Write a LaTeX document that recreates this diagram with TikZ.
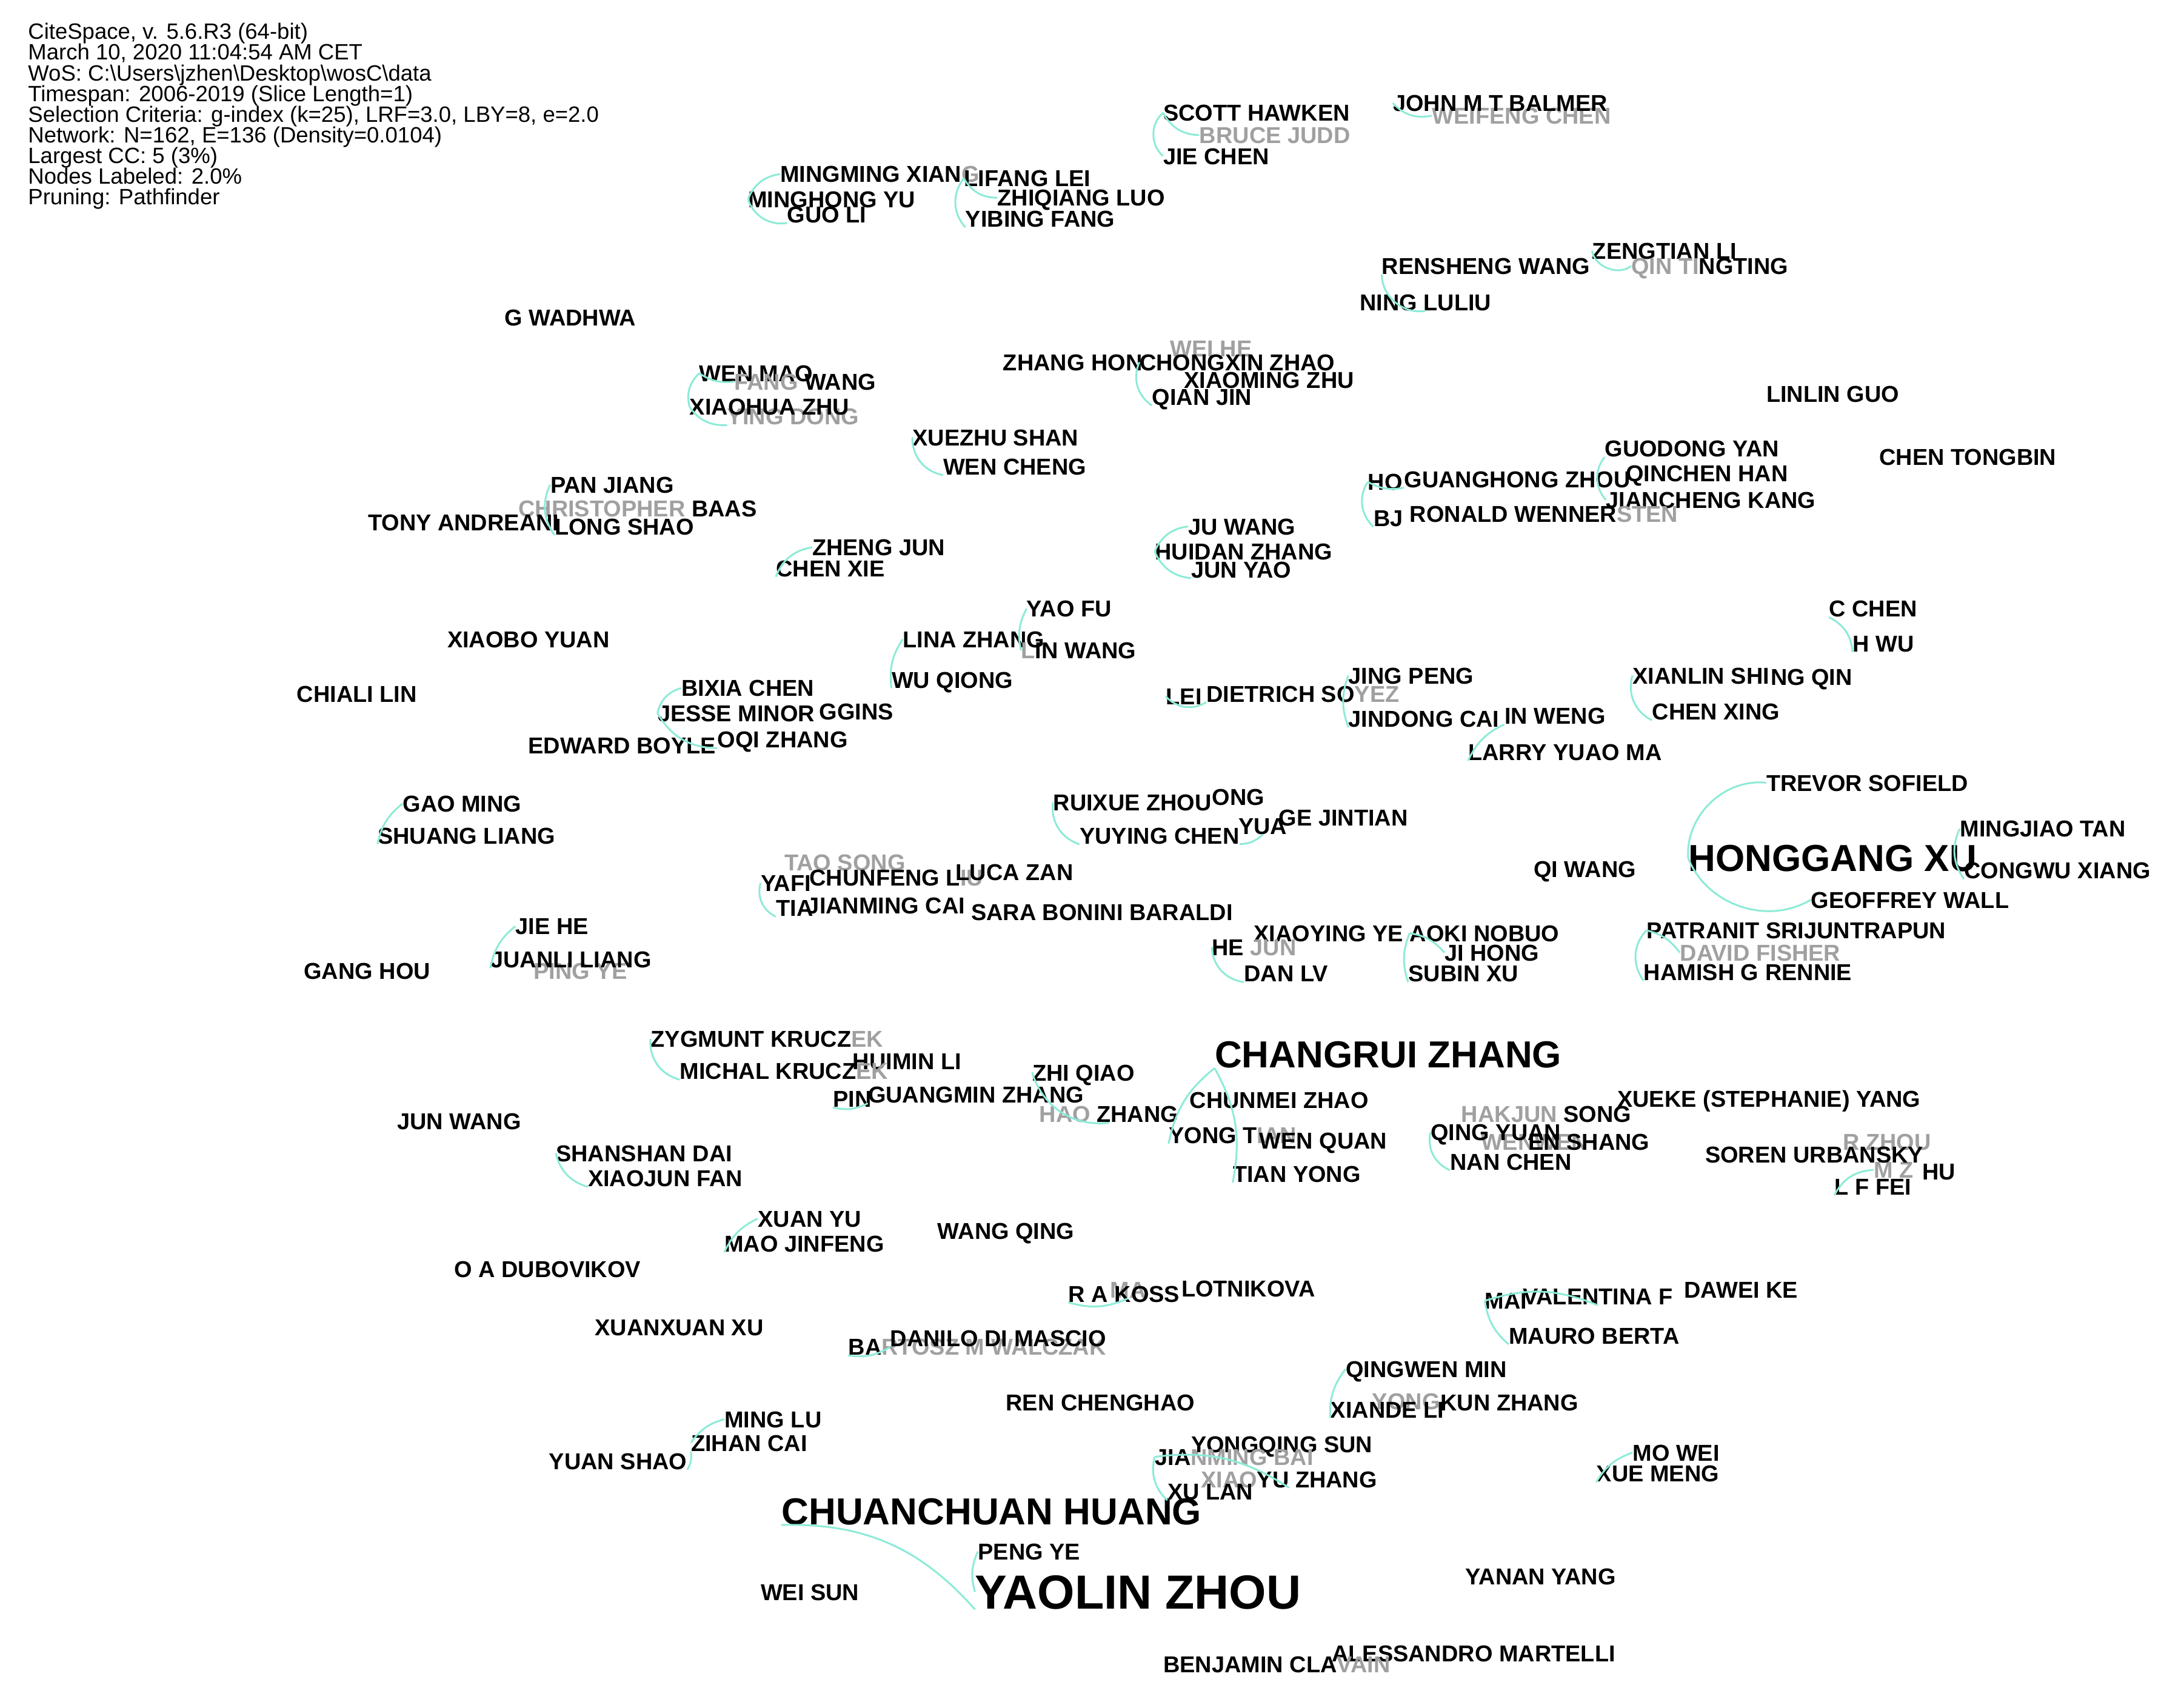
\documentclass[tikz,border=0pt]{standalone}
\usepackage{fontspec}
\setmainfont{Liberation Sans}
\definecolor{edgec}{RGB}{140,235,215}
\definecolor{gl}{RGB}{160,160,160}
\newcommand\LB[4]{\node[lab] (#1) at (#2,#3) {#4};}
\newcommand\GL[4]{\node[glab] (#1) at (#2,#3) {#4};}
\tikzset{
  lab/.style={anchor=west,inner sep=0pt,font=\bfseries\fontsize{16.5}{18}\selectfont,text height=11.9pt,text depth=0pt},
  glab/.style={lab,text=gl},
  bigl/.style={lab,font=\bfseries\fontsize{27}{30}\selectfont,text height=19.4pt},
  hugel/.style={lab,font=\bfseries\fontsize{34.4}{38}\selectfont,text height=24.8pt},
  edge/.style={draw=edgec,line width=1.3pt},
  hdr/.style={anchor=north west,inner sep=0pt,align=left,font=\fontsize{15.9}{14.85}\selectfont}
}
\begin{document}
\begin{tikzpicture}[x=1pt,y=-1pt]
\useasboundingbox[fill=white] (0,0) rectangle (1568,1224.1);
\node[hdr] (hdr) at (20,16.5) {CiteSpace, v. 5.6.R3 (64-bit)\\
March 10, 2020 11:04:54 AM CET\\
WoS: C:\textbackslash Users\textbackslash jzhen\textbackslash Desktop\textbackslash wosC\textbackslash data\\
Timespan: 2006-2019 (Slice Length=1)\\
Selection Criteria: g-index (k=25), LRF=3.0, LBY=8, e=2.0\\
Network: N=162, E=136 (Density=0.0104)\\
Largest CC: 5 (3\%)\\
Nodes Labeled: 2.0\%\\
Pruning: Pathfinder};
% gray (hidden) labels
\GL{bruce}{861}{97}{BRUCE JUDD}
\GL{weifeng}{1028}{83}{WEIFENG CHEN}
\GL{weihe}{840}{250}{WEI HE}
\GL{yingdong}{522}{299}{YING DONG}
\GL{taosong}{563}{619}{TAO SONG}
\GL{david}{1206}{684}{DAVID FISHER}
\GL{pingye}{383}{697}{PING YE}
\GL{rzhou}{1323}{820}{R ZHOU}
\GL{mz}{1345}{840}{M Z}
\GL{wenwen}{1063}{820}{WENWEN}
\GL{maria}{797}{926}{MA}
\GL{yongk}{985}{1006}{YONG}
% black labels
\LB{scott}{835}{81}{SCOTT HAWKEN}
\LB{jiechen}{835}{112}{JIE CHEN}
\LB{john}{1000}{74}{JOHN M T BALMER}
\LB{mingming}{560}{125}{MINGMING XIAN{\color{gl}G}}
\LB{lifang}{692}{128}{LIFANG LEI}
\LB{minghong}{537}{143}{MINGHONG YU}
\LB{guoli}{565}{154}{GUO LI}
\LB{zhiqiang}{716}{142}{ZHIQIANG LUO}
\LB{yibing}{693}{157}{YIBING FANG}
\LB{rensheng}{992}{191}{RENSHENG WANG}
\LB{zengtian}{1143}{180}{ZENGTIAN LI}
\LB{qinting}{1171}{191}{{\color{gl}QIN TI}NGTING}
\LB{ningluliu}{976}{217}{NING LULIU}
\LB{gwadhwa}{362}{228}{G WADHWA}
\LB{zhanghon}{720}{260}{ZHANG HON}
\LB{chongxin}{818}{260}{CHONGXIN ZHAO}
\LB{xiaoming}{850}{273}{XIAOMING ZHU}
\LB{qianjin}{827}{285}{QIAN JIN}
\LB{wenmao}{502}{268}{WEN MAO}
\LB{fangwang}{527}{274}{{\color{gl}FANG }WANG}
\LB{xiaohua}{495}{292}{XIAOHUA ZHU}
\LB{xuezhu}{655}{314}{XUEZHU SHAN}
\LB{wencheng}{677}{335}{WEN CHENG}
\LB{linlin}{1268}{283}{LINLIN GUO}
\LB{guodong}{1152}{322}{GUODONG YAN}
\LB{chentongbin}{1349}{328}{CHEN TONGBIN}
\LB{qinchen}{1167}{340}{QINCHEN HAN}
\LB{ho}{982}{346}{HO}
\LB{guanghong}{1008}{344}{GUANGHONG ZHOU}
\LB{jiancheng}{1153}{359}{JIANCHENG KANG}
\LB{bj}{986}{372}{BJ}
\LB{ronald}{1012}{369}{RONALD WENNER{\color{gl}STEN}}
\LB{panjiang}{395}{348}{PAN JIANG}
\LB{christopher}{372}{365}{{\color{gl}CHRISTOPHER }BAAS}
\LB{tony}{264}{375}{TONY ANDREANI}
\LB{longshao}{398}{378}{LONG SHAO}
\LB{zhengjun}{583}{393}{ZHENG JUN}
\LB{chenxie}{557}{408}{CHEN XIE}
\LB{juwang}{853}{378}{JU WANG}
\LB{huidan}{829}{396}{HUIDAN ZHANG}
\LB{junyao}{855}{409}{JUN YAO}
\LB{yaofu}{737}{437}{YAO FU}
\LB{cchen}{1313}{437}{C CHEN}
\LB{hwu}{1330}{462}{H WU}
\LB{lina}{648}{459}{LINA ZHANG}
\LB{linwang}{733}{467}{{\color{gl}L}IN WANG}
\LB{xiaobo}{321}{459}{XIAOBO YUAN}
\LB{wuqiong}{640}{488}{WU QIONG}
\LB{jingpeng}{968}{485}{JING PENG}
\LB{xianlin}{1172}{485}{XIANLIN SHI}
\LB{ngqin}{1271}{486}{NG QIN}
\LB{chenxing}{1186}{511}{CHEN XING}
\LB{chiali}{213}{498}{CHIALI LIN}
\LB{bixia}{489}{494}{BIXIA CHEN}
\LB{lei}{837}{500}{LEI}
\LB{dietrich}{866}{498}{DIETRICH SO{\color{gl}YEZ}}
\LB{jindong}{968}{516}{JINDONG CAI}
\LB{inweng}{1080}{514}{IN WENG}
\LB{jesse}{472}{512}{JESSE MINOR}
\LB{ggins}{588}{511}{GGINS}
\LB{edward}{379}{535}{EDWARD BOYLE}
\LB{oqi}{515}{531}{OQI ZHANG}
\LB{larry}{1054}{540}{LARRY YU}
\LB{aoma}{1138}{540}{AO MA}
\LB{trevor}{1268}{562}{TREVOR SOFIELD}
\LB{gaoming}{289}{577}{GAO MING}
\LB{ruixue}{756}{576}{RUIXUE ZHOU}
\LB{ong}{870}{572}{ONG}
\LB{yuying}{775}{600}{YUYING CHEN}
\LB{yua}{889}{593}{YUA}
\LB{gejintian}{918}{587}{GE JINTIAN}
\LB{shuang}{271}{600}{SHUANG LIANG}
\LB{mingjiao}{1407}{595}{MINGJIAO TAN}
\node[bigl] (honggang) at (1212,616) {HONGGANG XU};
\LB{congwu}{1410}{625}{CONGWU XIANG}
\LB{qiwang}{1101}{624}{QI WANG}
\LB{yafi}{546}{634}{YAFI}
\LB{chunfeng}{581}{630}{CHUNFENG L{\color{gl}IU}}
\LB{luca}{686}{626}{LUCA ZAN}
\LB{tia}{557}{652}{TIA}
\LB{jianming}{579}{650}{JIANMING CAI}
\LB{sara}{697}{655}{SARA BONINI BARALDI}
\LB{geoffrey}{1300}{646}{GEOFFREY WALL}
\LB{jiehe}{370}{665}{JIE HE}
\LB{xiaoying}{900}{670}{XIAOYING YE}
\LB{aoki}{1012}{670}{AOKI NOBUO}
\LB{patranit}{1182}{668}{PATRANIT SRIJUNTRAPUN}
\LB{hejun}{870}{680}{HE {\color{gl}JUN}}
\LB{jihong}{1037}{684}{JI HONG}
\LB{ganghou}{218}{697}{GANG HOU}
\LB{juanli}{352}{689}{JUANLI LIANG}
\LB{danlv}{893}{699}{DAN LV}
\LB{subin}{1011}{699}{SUBIN XU}
\LB{hamish}{1180}{698}{HAMISH G RENNIE}
\node[bigl] (changrui) at (872,757) {CHANGRUI ZHANG};
\LB{zygmunt}{467}{746}{ZYGMUNT KRUCZ{\color{gl}EK}}
\LB{huimin}{612}{762}{HUIMIN LI}
\LB{michal}{488}{769}{MICHAL KRUCZ{\color{gl}EK}}
\LB{zhiqiao}{741}{770}{ZHI QIAO}
\LB{pin}{598}{789}{PIN}
\LB{guangmin}{623}{786}{GUANGMIN ZHANG}
\LB{hao}{746}{800}{{\color{gl}HAO }ZHANG}
\LB{chunmei}{854}{790}{CHUNMEI ZHAO}
\LB{xueke}{1161}{789}{XUEKE (STEPHANIE) YANG}
\LB{hakjun}{1049}{800}{{\color{gl}HAKJUN }SONG}
\LB{junwang}{285}{805}{JUN WANG}
\LB{yongt}{839}{815}{YONG T{\color{gl}IAN}}
\LB{wenquan}{904}{819}{WEN QUAN}
\LB{qingyuan}{1027}{813}{QING YUAN}
\LB{enshang}{1097}{820}{EN SHANG}
\LB{soren}{1224}{829}{SOREN URBANSKY}
\LB{hu}{1380}{841}{HU}
\LB{lffei}{1317}{852}{L F FEI}
\LB{shanshan}{399}{828}{SHANSHAN DAI}
\LB{nanchen}{1041}{834}{NAN CHEN}
\LB{tianyong}{885}{843}{TIAN YONG}
\LB{xiaojun}{422}{846}{XIAOJUN FAN}
\LB{xuanyu}{544}{875}{XUAN YU}
\LB{wangqing}{673}{884}{WANG QING}
\LB{maojin}{520}{893}{MAO JINFENG}
\LB{dubovikov}{326}{911}{O A DUBOVIKOV}
\LB{rakoss}{767}{929}{R A KOSS}
\LB{lotnikova}{848}{925}{LOTNIKOVA}
\LB{mai}{1066}{934}{MAI}
\LB{valentina}{1093}{931}{VALENTINA F}
\LB{dawei}{1209}{926}{DAWEI KE}
\LB{mauro}{1083}{959}{MAURO BERTA}
\LB{xuanxuan}{427}{953}{XUANXUAN XU}
\LB{bart}{609}{967}{BA{\color{gl}RTOSZ M WALCZAK}}
\LB{danilo}{639}{961}{DANILO DI MASCIO}
\LB{qingwen}{966}{983}{QINGWEN MIN}
\LB{xiande}{955}{1012}{XIANDE LI}
\LB{kunzhang}{1034}{1007}{KUN ZHANG}
\LB{renchenghao}{722}{1007}{REN CHENGHAO}
\LB{minglu}{520}{1019}{MING LU}
\LB{zihan}{496}{1036}{ZIHAN CAI}
\LB{yongqing}{855}{1037}{YONGQING SUN}
\LB{jia}{829}{1046}{JIA{\color{gl}NMING BAI}}
\LB{mowei}{1172}{1043}{MO WEI}
\LB{yuanshao}{394}{1049}{YUAN SHAO}
\LB{xiaoyu}{862}{1062}{{\color{gl}XIAO}YU ZHANG}
\LB{xuemeng}{1146}{1058}{XUE MENG}
\LB{xulan}{838}{1071}{XU LAN}
\node[bigl] (chuanchuan) at (561,1085) {CHUANCHUAN HUANG};
\LB{pengye}{702}{1114}{PENG YE}
\node[hugel] (yaolin) at (700,1143) {YAOLIN ZHOU};
\LB{weisun}{546}{1143}{WEI SUN}
\LB{yanan}{1052}{1132}{YANAN YANG}
\LB{alessandro}{956}{1187}{ALESSANDRO MARTELLI}
\LB{benjamin}{835}{1195}{BENJAMIN CLA{\color{gl}VAIN}}
% connectors
\begin{scope}[edge]
\draw (scott.west) to[bend right=50] (jiechen.west);
\draw (scott.west) to[bend right=30] (bruce.west);
\draw (john.west) to[bend right=30] (weifeng.west);
\draw (mingming.west) to[bend right=30] (minghong.west);
\draw (minghong.west) to[bend right=40] (guoli.south west);
\draw (lifang.west) to[bend right=40] (yibing.south west);
\draw (lifang.west) to[bend right=30] (zhiqiang.west);
\draw (rensheng.south west) to[bend right=50] (ningluliu.south);
\draw (zengtian.west) to[bend right=60] (qinting.west);
\draw (wenmao.west) to[bend right=30] (xiaohua.west);
\draw (xiaohua.west) to[bend right=30] (yingdong.south west);
\draw (wenmao.west) to[bend right=20] (fangwang.west);
\draw (chongxin.west) to[bend right=40] (qianjin.south west);
\draw (xuezhu.west) to[bend right=40] (wencheng.south west);
\draw (ho.west) to[bend right=40] (bj.south west);
\draw (ho.west) to[bend right=20] (guanghong.south west);
\draw (guodong.south west) to[bend right=40] (jiancheng.west);
\draw (panjiang.west) to[bend right=30] (longshao.south west);
\draw (zhengjun.west) to[bend right=30] (chenxie.south west);
\draw (juwang.west) to[bend right=30] (huidan.west);
\draw (huidan.west) to[bend right=30] (junyao.south west);
\draw (cchen.south west) to[bend left=30] (hwu.south west);
\draw (lina.west) to[bend right=20] (wuqiong.south west);
\draw (yaofu.west) to[bend right=20] (linwang.west);
\draw (xianlin.west) to[bend right=40] (chenxing.south west);
\draw (jingpeng.west) to[bend right=20] (jindong.south west);
\draw (lei.west) to[bend right=40] (dietrich.south west);
\draw (bixia.west) to[bend right=30] (jesse.west);
\draw (jesse.west) to[bend right=30] (oqi.south west);
\draw (larry.south west) to[bend left=20] (inweng.south west);
\draw (gaoming.west) to[bend right=20] (shuang.south west);
\draw (trevor.west) to[bend right=50] (honggang.west);
\draw (honggang.west) to[bend right=50] (geoffrey.west);
\draw (mingjiao.west) to[bend right=30] (congwu.south west);
\draw (ruixue.west) to[bend right=40] (yuying.south west);
\draw (yuying.south east) to[bend right=20] (yua.south);
\draw (yafi.west) to[bend right=40] (tia.south west);
\draw (jiehe.west) to[bend right=20] (juanli.south west);
\draw (hejun.west) to[bend right=40] (danlv.south west);
\draw (aoki.west) to[bend right=20] (subin.south west);
\draw (aoki.west) to[bend left=20] (jihong.west);
\draw (patranit.west) to[bend right=40] (hamish.south west);
\draw (patranit.west) to[bend left=20] (david.west);
\draw (changrui.south west) to[bend right=20] (yongt.south west);
\draw (changrui.south west) to[bend left=20] (tianyong.south west);
\draw (zygmunt.west) to[bend right=40] (michal.south west);
\draw (pin.south west) to[bend right=20] (guangmin.south west);
\draw (zhiqiao.west) to[bend right=40] (hao.south);
\draw (qingyuan.west) to[bend right=40] (nanchen.south west);
\draw (lffei.south west) to[bend left=30] (mz.west);
\draw (shanshan.west) to[bend right=30] (xiaojun.south west);
\draw (xuanyu.west) to[bend right=20] (maojin.south west);
\draw (rakoss.south west) to[bend right=20] (maria.south);
\draw (mai.west) to[bend right=20] (mauro.south west);
\draw (mai.west) to[bend left=20] (valentina.south);
\draw (bart.south west) to[bend right=20] (danilo.south west);
\draw (qingwen.west) to[bend right=20] (xiande.south west);
\draw (minglu.west) to[bend right=20] (zihan.west);
\draw (zihan.south west) to[bend left=20] (yuanshao.south east);
\draw (jia.west) to[bend right=30] (xulan.south west);
\draw (jia.west) to[bend left=20] (xiaoyu.south);
\draw (mowei.west) to[bend right=20] (xuemeng.south west);
\draw (chuanchuan.south west) to[bend left=25] (yaolin.south west);
\draw (pengye.west) to[bend right=20] (yaolin.west);
\end{scope}
\end{tikzpicture}
\end{document}
